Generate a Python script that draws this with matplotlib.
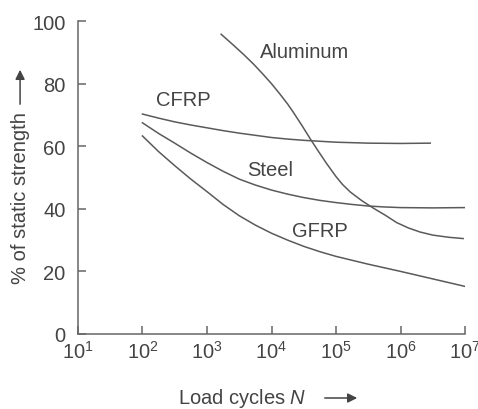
import matplotlib
matplotlib.use("Agg")
import matplotlib.pyplot as plt
from matplotlib.ticker import FixedLocator, NullLocator, LogFormatterSciNotation

plt.rcParams['font.family'] = ['Liberation Sans', 'DejaVu Sans']
plt.rcParams['mathtext.fontset'] = 'custom'
plt.rcParams['mathtext.rm'] = 'Liberation Sans'
plt.rcParams['mathtext.it'] = 'Liberation Sans:italic'

# data (x as log10 of load cycles, y in % of static strength)
cfrp_logn = [2.0, 2.25, 2.5, 2.75, 3.0, 3.25, 3.5, 3.75, 4.0, 4.25, 4.5, 4.75, 5.0, 5.5, 6.0, 6.46]
cfrp_pct = [70.3, 69.0, 67.8, 66.8, 65.9, 65.0, 64.2, 63.5, 62.8, 62.3, 61.9, 61.6, 61.3, 61.0, 60.9, 61.0]

steel_logn = [2.0, 2.25, 2.5, 2.75, 3.0, 3.25, 3.5, 3.75, 4.0, 4.25, 4.5, 4.75, 5.0, 5.25, 5.5,
              5.75, 6.0, 6.5, 7.0]
steel_pct = [67.5, 64.1, 61.0, 57.8, 54.8, 52.0, 49.5, 47.6, 46.0, 44.7, 43.6, 42.7, 42.0, 41.4, 40.9,
             40.6, 40.4, 40.3, 40.4]

gfrp_logn = [2.0, 2.25, 2.5, 2.75, 3.0, 3.25, 3.5, 3.75, 4.0, 4.25, 4.5, 4.75, 5.0, 5.5, 6.0, 6.5, 7.0]
gfrp_pct = [63.3, 58.3, 53.8, 49.5, 45.5, 41.4, 37.8, 34.8, 32.2, 30.0, 28.0, 26.3, 24.8, 22.3, 20.0,
            17.6, 15.2]

alu_logn = [3.22, 3.4, 3.56, 3.72, 3.87, 4.0, 4.13, 4.25, 4.34, 4.47, 4.6, 4.72, 4.85, 5.0, 5.1,
            5.22, 5.4, 5.58, 5.76, 5.94, 6.12, 6.3, 6.5, 6.75, 6.97]
alu_pct = [95.8, 92.5, 89.5, 86.3, 83.0, 80.0, 76.7, 73.5, 70.8, 66.7, 62.4, 58.6, 54.6, 50.3, 47.8,
           45.4, 42.6, 40.2, 38.0, 35.6, 33.9, 32.6, 31.6, 30.9, 30.5]

labels = ['CFRP', 'Steel', 'GFRP', 'Aluminum']
label_logn = [2.63, 3.98, 4.75, 4.52]
label_pct = [75.0, 52.7, 33.0, 90.4]

x_ticks = [1, 2, 3, 4, 5, 6, 7]
y_ticks = [0, 20, 40, 60, 80, 100]

line_c = '#5a5a5a'
text_c = '#444444'

fig = plt.figure(figsize=(4.78, 4.10), dpi=100)
ax = fig.add_axes([0.163, 0.183, 0.81, 0.763])

for xs, ys in [(cfrp_logn, cfrp_pct), (steel_logn, steel_pct),
               (gfrp_logn, gfrp_pct), (alu_logn, alu_pct)]:
    ax.plot([10 ** v for v in xs], ys, color=line_c, lw=1.1, solid_joinstyle='round')

for name, lx, ly in zip(labels, label_logn, label_pct):
    ax.text(10 ** lx, ly, name, ha='center', va='center', fontsize=14.5, color=text_c)

ax.set_xscale('log')
ax.set_xlim(10, 1e7)
ax.set_ylim(0, 100)
ax.xaxis.set_major_locator(FixedLocator([10 ** v for v in x_ticks]))
ax.xaxis.set_major_formatter(LogFormatterSciNotation())
ax.xaxis.set_minor_locator(NullLocator())
ax.set_yticks(y_ticks)

for s in ['top', 'right']:
    ax.spines[s].set_visible(False)
for s in ['left', 'bottom']:
    ax.spines[s].set_color('#666666')
    ax.spines[s].set_linewidth(1.1)
ax.tick_params(direction='in', length=6, width=1.1, color='#666666',
               labelsize=14.5, labelcolor=text_c)
ax.tick_params(axis='x', pad=4)
ax.tick_params(axis='y', pad=9)

# axis titles with arrows
fig.text(0.042, 0.518, '% of static strength', rotation=90, ha='center', va='center',
         fontsize=14.5, color=text_c)
fig.text(0.507, 0.029, 'Load cycles $N$', ha='center', va='center',
         fontsize=14.5, color=text_c)
fig.patches.append(matplotlib.patches.FancyArrowPatch(
    (0.042, 1 - 108 / 410), (0.042, 1 - 68 / 410), transform=fig.transFigure,
    arrowstyle='-|>', mutation_scale=14, color=text_c, lw=1.1))
fig.patches.append(matplotlib.patches.FancyArrowPatch(
    (322 / 478, 1 - 399 / 410), (360 / 478, 1 - 399 / 410), transform=fig.transFigure,
    arrowstyle='-|>', mutation_scale=14, color=text_c, lw=1.1))

fig.savefig('out.png', dpi=100)
